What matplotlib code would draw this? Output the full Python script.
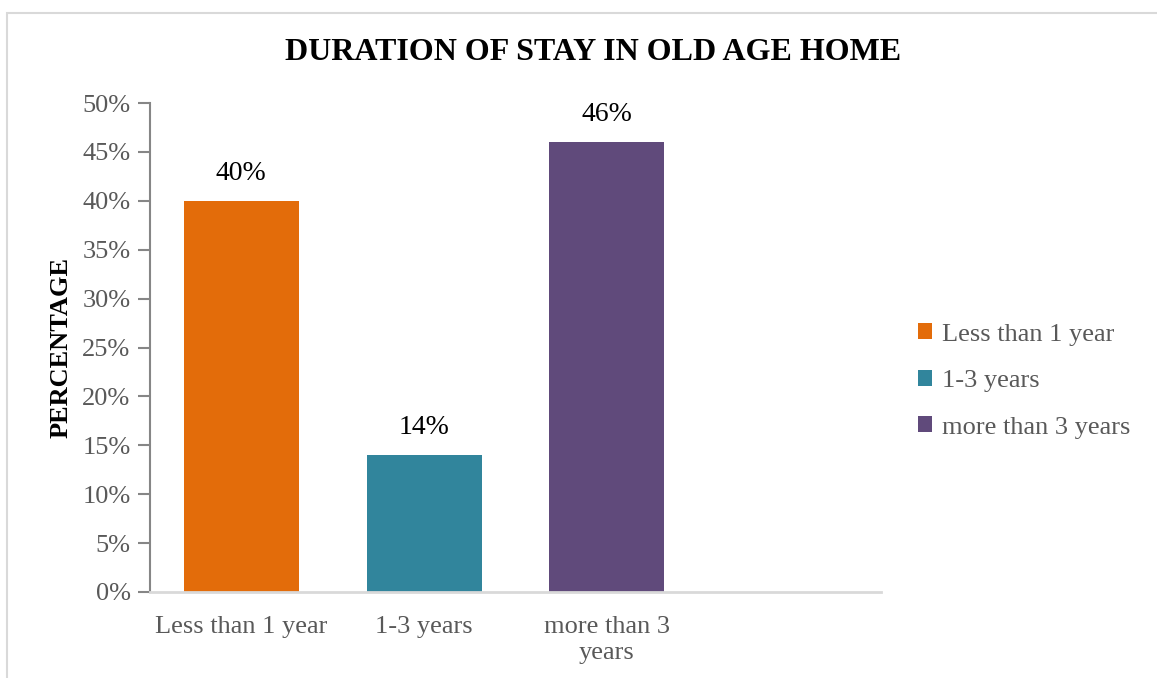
import matplotlib.pyplot as plt
from matplotlib.patches import Rectangle, Patch
from matplotlib.ticker import FuncFormatter

# duration of stay data (percent of residents)
categories = ['Less than 1 year', '1-3 years', 'more than 3\nyears']
legend_names = ['Less than 1 year', '1-3 years', 'more than 3 years']
values = [40, 14, 46]
colors = ['#E36C0A', '#31859C', '#604A7B']

plt.rcParams['font.family'] = ['Liberation Serif', 'DejaVu Serif']
grey = '#595959'

fig = plt.figure(figsize=(11.57, 6.78), dpi=100)
# thin chart border like the office export
fig.patches.append(Rectangle((7 / 1157, -0.1), 1.2, 1 - 13 / 678 + 0.1,
                             transform=fig.transFigure, fill=False,
                             edgecolor='#d9d9d9', linewidth=1.5))

ax = fig.add_axes([150 / 1157, 86 / 678, 731 / 1157, 489 / 678])

x = range(len(categories))
bars = ax.bar(x, values, width=0.63, color=colors, zorder=2)
for b, v in zip(bars, values):
    ax.text(b.get_x() + b.get_width() / 2, v + 1.5, f'{v}%',
            ha='center', va='bottom', fontsize=20, color='black')

# empty fourth slot on the category axis
ax.set_xlim(-0.5, 3.5)
ax.set_ylim(0, 50)
ax.set_yticks(range(0, 51, 5))
ax.yaxis.set_major_formatter(FuncFormatter(lambda v, p: f'{int(v)}%'))
ax.set_xticks(list(x))
ax.set_xticklabels(categories, fontsize=19, color=grey, linespacing=1.25)
ax.tick_params(axis='y', labelsize=19, labelcolor=grey, color='#868686',
               length=9, width=1.5, pad=5)
ax.tick_params(axis='x', length=0, pad=17)

for s in ['top', 'right']:
    ax.spines[s].set_visible(False)
ax.spines['left'].set_color('#868686')
ax.spines['left'].set_linewidth(1.5)
ax.spines['bottom'].set_color('#d9d9d9')
ax.spines['bottom'].set_linewidth(2)

ax.set_ylabel('PERCENTAGE', fontsize=19, fontweight='bold', labelpad=7)
fig.text(593 / 1157, 1 - 52 / 678, 'DURATION OF STAY IN OLD AGE HOME',
         ha='center', va='center', fontsize=23, fontweight='bold')

handles = [Patch(facecolor=c, label=n) for c, n in zip(colors, legend_names)]
fig.legend(handles=handles, loc='center left',
           bbox_to_anchor=(894 / 1157, 1 - 381 / 678), frameon=False,
           fontsize=19, labelcolor=grey, handlelength=0.55, handleheight=0.55,
           handletextpad=0.35, labelspacing=0.92)

fig.savefig('out.png', dpi=100, facecolor='white')
